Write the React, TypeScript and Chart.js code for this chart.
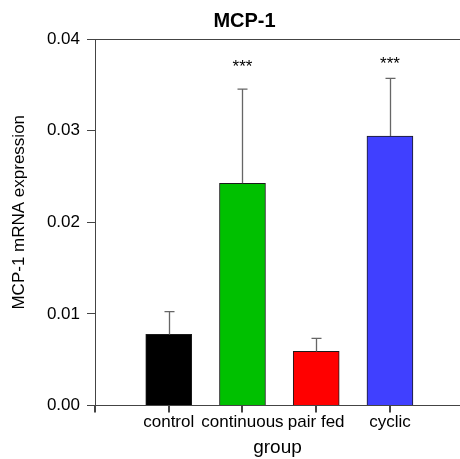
import React, { useEffect, useRef } from "react";
import { Chart, registerables } from "chart.js";

Chart.register(...registerables);

const chartTitle = "MCP-1";
const yAxisTitle = "MCP-1 mRNA expression";
const xAxisTitle = "group";
const categories = ["control", "continuous", "pair fed", "cyclic"];
const means = [0.00776, 0.02426, 0.0059, 0.0294];
const errors = [0.00248, 0.01028, 0.00142, 0.0063];
const sigLabels = ["", "***", "", "***"];
const sigLabelY = [null, 0.03635, null, 0.03675];
const barColors = ["#000000", "#00c000", "#ff0000", "#4040ff"];
const yTicks = [0, 0.01, 0.02, 0.03, 0.04];
const xTickPositions = [0, 1, 2, 3, 4];

const FONT = "'Liberation Sans', Arial, Helvetica, sans-serif";
const AXIS_COLOR = "#444444";

const annotationsPlugin = {
  id: "annotations",
  afterDatasetsDraw(chart: any) {
    const ctx = chart.ctx;
    const x = chart.scales.x;
    const y = chart.scales.y;
    ctx.save();
    ctx.strokeStyle = "#666666";
    ctx.lineWidth = 1.3;
    means.forEach((m, i) => {
      const px = Math.round(x.getPixelForValue(i + 1)) + 0.5;
      const top = y.getPixelForValue(m + errors[i]);
      const base = y.getPixelForValue(m);
      ctx.beginPath();
      ctx.moveTo(px, base);
      ctx.lineTo(px, top);
      ctx.moveTo(px - 5, top);
      ctx.lineTo(px + 5, top);
      ctx.stroke();
    });
    ctx.fillStyle = "#000000";
    ctx.font = `17px ${FONT}`;
    ctx.textAlign = "center";
    ctx.textBaseline = "alphabetic";
    sigLabels.forEach((s, i) => {
      const v = sigLabelY[i];
      if (!s || v == null) return;
      ctx.fillText(s, x.getPixelForValue(i + 1), y.getPixelForValue(v));
    });
    ctx.restore();
  },
  afterDraw(chart: any) {
    const ctx = chart.ctx;
    const area = chart.chartArea;
    const x = chart.scales.x;
    ctx.save();
    ctx.strokeStyle = AXIS_COLOR;
    ctx.lineWidth = 1;
    ctx.beginPath();
    ctx.moveTo(area.left, Math.round(area.top) + 0.5);
    ctx.lineTo(chart.width, Math.round(area.top) + 0.5);
    ctx.stroke();
    ctx.lineWidth = 2;
    ctx.beginPath();
    xTickPositions.forEach((v) => {
      const px = Math.round(x.getPixelForValue(v));
      ctx.moveTo(px, area.bottom);
      ctx.lineTo(px, area.bottom + 7);
    });
    ctx.stroke();
    ctx.fillStyle = "#000000";
    ctx.textAlign = "center";
    ctx.textBaseline = "alphabetic";
    ctx.font = `bold 20px ${FONT}`;
    ctx.fillText(chartTitle, 244.5, 26.5);
    ctx.font = `19px ${FONT}`;
    ctx.fillText(xAxisTitle, (area.left + area.right) / 2, 452.5);
    ctx.font = `17px ${FONT}`;
    ctx.translate(24, (area.top + area.bottom) / 2 - 10);
    ctx.rotate(-Math.PI / 2);
    ctx.fillText(yAxisTitle, 0, 0);
    ctx.restore();
  },
};

export default function App() {
  const ref = useRef<HTMLCanvasElement>(null);
  useEffect(() => {
    document.body.style.margin = "0";
    if (!ref.current) return;
    const chart = new Chart(ref.current, {
      type: "bar",
      data: {
        datasets: [
          {
            data: means.map((m, i) => ({ x: i + 1, y: m })),
            backgroundColor: barColors,
            borderColor: "#1a1a1a",
            borderWidth: 1,
            barThickness: 46,
          },
        ],
      },
      options: {
        animation: false,
        responsive: false,
        layout: { padding: { left: 0, right: 0, top: 39, bottom: 0 } },
        plugins: {
          legend: { display: false },
          tooltip: { enabled: false },
          title: { display: false },
        },
        scales: {
          x: {
            type: "linear",
            min: 0,
            max: 4.95,
            offset: false,
            afterFit(scale: any) {
              scale.height = 53.5;
            },
            afterBuildTicks(scale: any) {
              scale.ticks = xTickPositions.map((v) => ({ value: v }));
            },
            ticks: {
              autoSkip: false,
              maxRotation: 0,
              padding: 1,
              color: "#000000",
              font: { family: FONT, size: 17 },
              callback: (v: any) => categories[Number(v) - 1] ?? "",
            },
            grid: {
              offset: false,
              drawOnChartArea: false,
              drawTicks: true,
              tickLength: 6,
              color: AXIS_COLOR,
            },
            border: { display: true, color: AXIS_COLOR, width: 1 },
          },
          y: {
            min: 0,
            max: 0.04,
            afterFit(scale: any) {
              scale.width = 95;
            },
            afterBuildTicks(scale: any) {
              scale.ticks = yTicks.map((v) => ({ value: v }));
            },
            ticks: {
              padding: 7,
              color: "#000000",
              font: { family: FONT, size: 17 },
              callback: (v: any) => Number(v).toFixed(2),
            },
            grid: {
              drawOnChartArea: false,
              drawTicks: true,
              tickLength: 8,
              color: AXIS_COLOR,
            },
            border: { display: true, color: AXIS_COLOR, width: 1 },
          },
        },
      },
      plugins: [annotationsPlugin],
    } as any);
    return () => chart.destroy();
  }, []);
  return (
    <div style={{ position: "absolute", left: 0, top: 0, width: 460, height: 459, background: "#fff" }}>
      <canvas ref={ref} width={460} height={459} />
    </div>
  );
}
